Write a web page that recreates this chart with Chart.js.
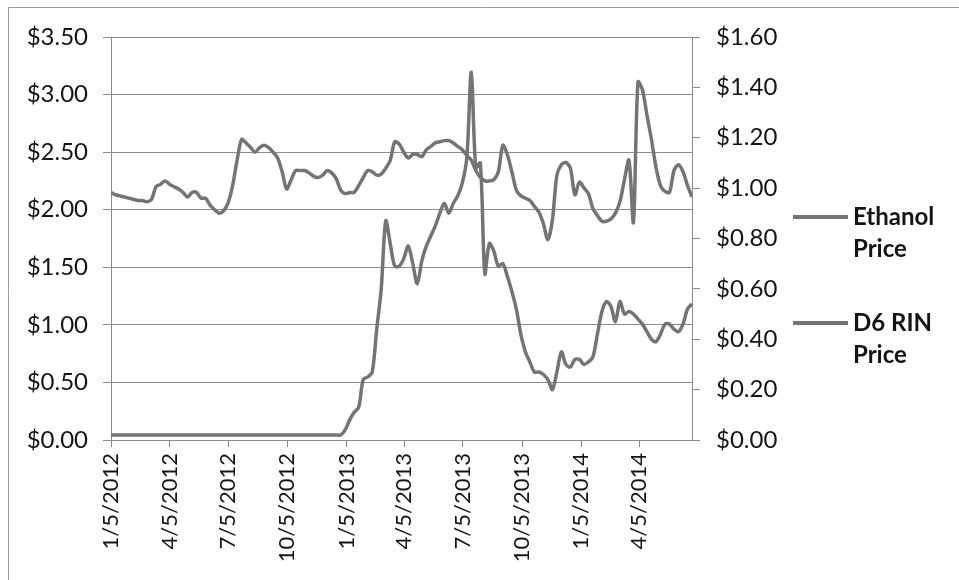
<!DOCTYPE html>
<html>
<head>
<meta charset="utf-8">
<script src="https://cdn.jsdelivr.net/npm/chart.js@4"></script>
<style>
  html, body { margin: 0; padding: 0; background: #fff; }
  #wrap { position: relative; width: 959px; height: 580px; }
</style>
</head>
<body>
<div id="wrap"><canvas id="chart" width="959" height="580"></canvas></div>
<script>
const START_DATE = "1/5/2012";
const TICK_LABELS = ["1/5/2012", "4/5/2012", "7/5/2012", "10/5/2012", "1/5/2013",
  "4/5/2013", "7/5/2013", "10/5/2013", "1/5/2014", "4/5/2014"];

// weekly prices, one per week from 1/5/2012
const ETHANOL_PRICE = [
  2.15, 2.13, 2.12, 2.11, 2.10, 2.09, 2.08, 2.08, 2.07, 2.09, 2.20, 2.22, 2.25,
  2.22, 2.20, 2.18, 2.15, 2.11, 2.15, 2.15, 2.10, 2.10, 2.04, 2.00, 1.97, 1.99,
  2.06, 2.21, 2.43, 2.61, 2.58, 2.54, 2.50, 2.54, 2.56, 2.54, 2.50, 2.45, 2.33,
  2.18, 2.26, 2.34, 2.34, 2.34, 2.32, 2.29, 2.28, 2.30, 2.34, 2.32, 2.27, 2.17,
  2.14, 2.15, 2.15, 2.21, 2.28, 2.34, 2.33, 2.30, 2.31, 2.36, 2.43, 2.59, 2.57,
  2.50, 2.45, 2.48, 2.48, 2.46, 2.52, 2.55, 2.58, 2.59, 2.60, 2.60, 2.58, 2.55,
  2.52, 2.47, 2.43, 2.34, 2.28, 2.25, 2.25, 2.26, 2.33, 2.56, 2.48, 2.33, 2.17,
  2.12, 2.10, 2.08, 2.03, 1.98, 1.88, 1.74, 1.91, 2.30, 2.39, 2.41, 2.36, 2.13,
  2.24, 2.19, 2.14, 2.01, 1.95, 1.90, 1.90, 1.92, 1.97, 2.07, 2.26, 2.43, 1.89,
  3.11, 3.04, 2.82, 2.61, 2.37, 2.21, 2.16, 2.15, 2.34, 2.39, 2.33, 2.21, 2.11,
];

const RIN_PRICE = [
  0.02, 0.02, 0.02, 0.02, 0.02, 0.02, 0.02, 0.02, 0.02, 0.02, 0.02, 0.02, 0.02,
  0.02, 0.02, 0.02, 0.02, 0.02, 0.02, 0.02, 0.02, 0.02, 0.02, 0.02, 0.02, 0.02,
  0.02, 0.02, 0.02, 0.02, 0.02, 0.02, 0.02, 0.02, 0.02, 0.02, 0.02, 0.02, 0.02,
  0.02, 0.02, 0.02, 0.02, 0.02, 0.02, 0.02, 0.02, 0.02, 0.02, 0.02, 0.02, 0.02,
  0.04, 0.08, 0.11, 0.13, 0.24, 0.25, 0.27, 0.44, 0.60, 0.87, 0.78, 0.69, 0.69,
  0.72, 0.77, 0.70, 0.62, 0.71, 0.77, 0.81, 0.85, 0.90, 0.94, 0.90, 0.94, 0.97,
  1.02, 1.12, 1.46, 1.08, 1.10, 0.66, 0.78, 0.75, 0.69, 0.70, 0.65, 0.59, 0.52,
  0.42, 0.35, 0.31, 0.27, 0.27, 0.26, 0.24, 0.20, 0.27, 0.35, 0.30, 0.29, 0.32,
  0.32, 0.30, 0.31, 0.33, 0.42, 0.51, 0.55, 0.53, 0.47, 0.55, 0.50, 0.51, 0.50,
  0.48, 0.46, 0.43, 0.40, 0.39, 0.42, 0.46, 0.46, 0.44, 0.43, 0.46, 0.52, 0.54,
];

const LINE_COLOR = "#747474";
const GRID_COLOR = "#8c8c8c";
const TEXT_COLOR = "#141414";
const FONT = "Lato, 'Open Sans', sans-serif";

function parseDay(label) {
  const [m, d, y] = label.split("/").map(Number);
  return Date.UTC(y, m - 1, d) / 86400000;
}

const day0 = parseDay(START_DATE);
const tickDays = TICK_LABELS.map((l) => parseDay(l) - day0);

function toPoints(values) {
  return values.map((v, i) => ({ x: i * 7, y: v }));
}

const frame = {
  id: "frame",
  beforeDraw(chart) {
    const ctx = chart.ctx;
    ctx.save();
    ctx.strokeStyle = "#9a9a9a";
    ctx.lineWidth = 1;
    ctx.beginPath();
    ctx.moveTo(8.5, 580);
    ctx.lineTo(8.5, 7.5);
    ctx.lineTo(959, 7.5);
    ctx.stroke();
    ctx.restore();
  },
};

const sideLegend = {
  id: "sideLegend",
  afterDraw(chart) {
    const ctx = chart.ctx;
    const rows = [217, 323];
    ctx.save();
    chart.data.datasets.forEach((ds, i) => {
      const y = rows[i];
      ctx.strokeStyle = ds.borderColor;
      ctx.lineWidth = 4;
      ctx.beginPath();
      ctx.moveTo(793, y);
      ctx.lineTo(848, y);
      ctx.stroke();
      ctx.fillStyle = TEXT_COLOR;
      ctx.font = "bold 24px " + FONT;
      ctx.textBaseline = "middle";
      ctx.textAlign = "left";
      ds.legendLines.forEach((line, j) => {
        ctx.fillText(line, 853, y + j * 32);
      });
    });
    ctx.restore();
  },
};

new Chart(document.getElementById("chart").getContext("2d"), {
  type: "line",
  data: {
    datasets: [
      {
        label: "Ethanol Price",
        legendLines: ["Ethanol", "Price"],
        data: toPoints(ETHANOL_PRICE),
        yAxisID: "y",
        borderColor: LINE_COLOR,
        borderWidth: 3.5,
        pointRadius: 0,
        tension: 0.3,
        fill: false,
      },
      {
        label: "D6 RIN Price",
        legendLines: ["D6 RIN", "Price"],
        data: toPoints(RIN_PRICE),
        yAxisID: "y1",
        borderColor: LINE_COLOR,
        borderWidth: 3.5,
        pointRadius: 0,
        tension: 0.3,
        fill: false,
      },
    ],
  },
  options: {
    responsive: false,
    animation: false,
    layout: { padding: { top: 37, right: 0, bottom: 0, left: 0 } },
    plugins: {
      legend: { display: false },
      tooltip: { enabled: false },
    },
    scales: {
      x: {
        type: "linear",
        min: 0,
        max: (ETHANOL_PRICE.length - 1) * 7,
        afterBuildTicks: (scale) => {
          scale.ticks = tickDays.map((v) => ({ value: v }));
        },
        afterFit: (scale) => { scale.height = 140; },
        ticks: {
          color: TEXT_COLOR,
          font: { family: FONT, size: 22 },
          minRotation: 90,
          maxRotation: 90,
          padding: 6,
          autoSkip: false,
          callback: (v) => {
            const i = tickDays.indexOf(v);
            return i >= 0 ? TICK_LABELS[i] : "";
          },
        },
        grid: { drawOnChartArea: false, drawTicks: true, tickLength: 7, color: GRID_COLOR },
        border: { display: true, color: GRID_COLOR },
      },
      y: {
        position: "left",
        min: 0,
        max: 3.5,
        afterFit: (scale) => { scale.width = 111; },
        ticks: {
          stepSize: 0.5,
          color: TEXT_COLOR,
          font: { family: FONT, size: 24 },
          padding: 15,
          callback: (v) => "$" + v.toFixed(2),
        },
        grid: { color: GRID_COLOR, tickLength: 8, lineWidth: 1 },
        border: { display: true, color: GRID_COLOR },
      },
      y1: {
        position: "right",
        min: 0,
        max: 1.6,
        afterFit: (scale) => { scale.width = 267; },
        ticks: {
          stepSize: 0.2,
          color: TEXT_COLOR,
          font: { family: FONT, size: 24 },
          padding: 16,
          callback: (v) => "$" + v.toFixed(2),
        },
        grid: { drawOnChartArea: false, tickLength: 8, color: GRID_COLOR },
        border: { display: true, color: GRID_COLOR },
      },
    },
  },
  plugins: [frame, sideLegend],
});
</script>
</body>
</html>
